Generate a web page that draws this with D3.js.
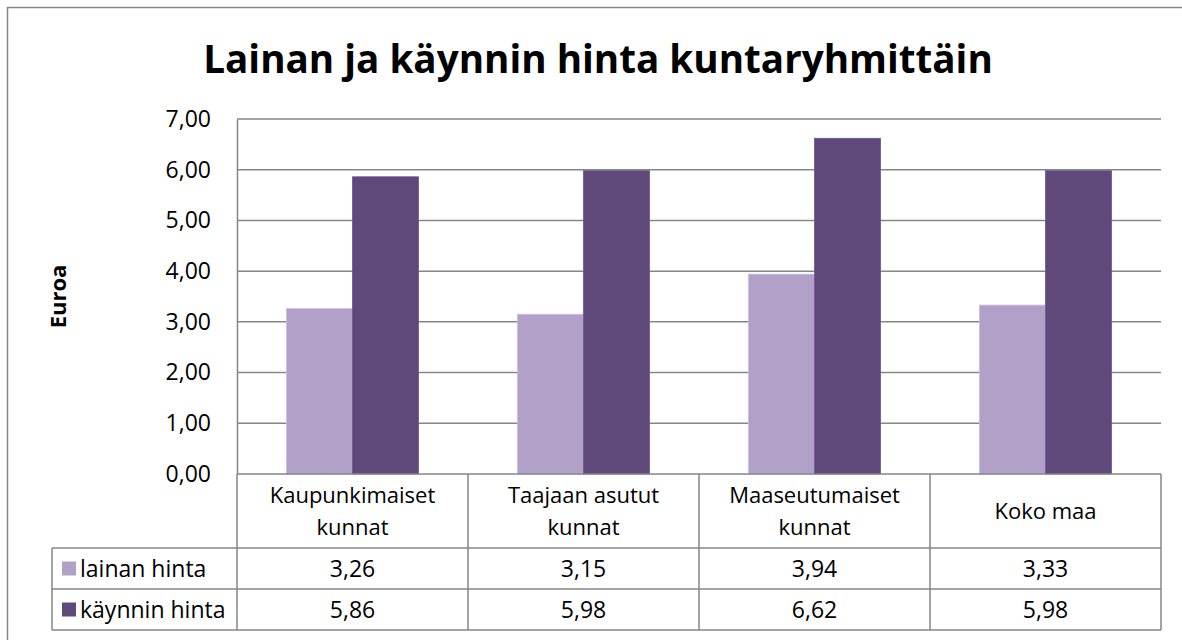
<!DOCTYPE html>
<html>
<head>
<meta charset="utf-8">
<script src="https://cdn.jsdelivr.net/npm/d3@7"></script>
<style>
  html, body { margin: 0; background: #fff; overflow: hidden; }
  svg { display: block; font-family: 'Open Sans', sans-serif; }
</style>
</head>
<body>
<svg id="chart" width="1182" height="640"></svg>
<script>
const title = 'Lainan ja käynnin hinta kuntaryhmittäin';
const yLabel = 'Euroa';
const categories = [
  ['Kaupunkimaiset', 'kunnat'],
  ['Taajaan asutut', 'kunnat'],
  ['Maaseutumaiset', 'kunnat'],
  ['Koko maa']
];
const seriesNames = ['lainan hinta', 'käynnin hinta'];
const lainanHinta = [3.26, 3.15, 3.94, 3.33];
const kaynninHinta = [5.86, 5.98, 6.62, 5.98];
const yTicks = [0, 1, 2, 3, 4, 5, 6, 7];

const colors = ['#b1a0c7', '#5f497a'];
const lineColor = '#868686';
const series = [lainanHinta, kaynninHinta];

const svg = d3.select('#chart');
const fmt = (v) => v.toFixed(2).replace('.', ',');

// plot area
const plotLeft = 237, plotRight = 1161, plotTop = 119, plotBottom = 474;
const rowH = 41;
const catRowBottom = 548;
const legendLeft = 52;

// outer chart border (right and bottom edges fall outside the picture)
svg.append('path')
  .attr('d', 'M7.5,640V7.5H1182')
  .attr('fill', 'none')
  .attr('stroke', lineColor)
  .attr('stroke-width', 1.5);

// title, sized to fit the reference width
const t = svg.append('text')
  .attr('x', 598).attr('y', 73)
  .attr('text-anchor', 'middle')
  .attr('font-weight', 'bold')
  .attr('font-size', 40)
  .attr('fill', '#000')
  .text(title);
const tw = t.node().getComputedTextLength();
t.attr('font-size', 40 * 790 / tw);

const x = d3.scaleBand()
  .domain(d3.range(categories.length))
  .range([plotLeft, plotRight])
  .paddingInner(0)
  .paddingOuter(0);

const xInner = d3.scaleBand()
  .domain(d3.range(series.length))
  .range([0, x.bandwidth()])
  .paddingInner(0)
  .paddingOuter(0.75);

const y = d3.scaleLinear().domain([0, 7]).range([plotBottom, plotTop]);

// gridlines
svg.append('g')
  .selectAll('line')
  .data(yTicks.filter((d) => d > 0))
  .enter()
  .append('line')
  .attr('x1', plotLeft).attr('x2', plotRight)
  .attr('y1', (d) => y(d)).attr('y2', (d) => y(d))
  .attr('stroke', lineColor)
  .attr('stroke-width', 1.5);

// y axis
const yAxis = svg.append('g')
  .attr('transform', `translate(${plotLeft},0)`)
  .call(d3.axisLeft(y).tickValues(yTicks).tickFormat(fmt).tickSize(0).tickPadding(26));
yAxis.attr('font-size', null).attr('font-family', null);
yAxis.select('.domain').attr('stroke', lineColor).attr('stroke-width', 1.5);
yAxis.selectAll('text')
  .style('font-size', '23px')
  .style('font-family', "'Open Sans', sans-serif")
  .attr('fill', '#000');

svg.append('text')
  .attr('transform', `translate(66,${(plotTop + plotBottom) / 2}) rotate(-90)`)
  .attr('text-anchor', 'middle')
  .attr('font-weight', 'bold')
  .attr('font-size', 22)
  .text(yLabel);

// bars
series.forEach((vals, si) => {
  svg.append('g')
    .selectAll('rect')
    .data(vals)
    .enter()
    .append('rect')
    .attr('x', (d, i) => x(i) + xInner(si))
    .attr('width', xInner.bandwidth())
    .attr('y', (d) => y(d))
    .attr('height', (d) => y(0) - y(d))
    .attr('fill', colors[si])
    .attr('stroke', d3.color(colors[si]).brighter(0.4))
    .attr('stroke-width', 0.8);
});

// data table
const table = svg.append('g')
  .attr('stroke', lineColor)
  .attr('stroke-width', 1.5);
const tableBottom = catRowBottom + rowH * series.length;
table.append('line')
  .attr('x1', plotLeft).attr('x2', plotRight)
  .attr('y1', plotBottom).attr('y2', plotBottom);
[catRowBottom, catRowBottom + rowH, tableBottom].forEach((yy) => {
  table.append('line')
    .attr('x1', legendLeft).attr('x2', plotRight)
    .attr('y1', yy).attr('y2', yy);
});
table.append('line')
  .attr('x1', legendLeft).attr('x2', legendLeft)
  .attr('y1', catRowBottom).attr('y2', tableBottom);
d3.range(categories.length + 1).forEach((i) => {
  const xx = i < categories.length ? x(i) : plotRight;
  table.append('line')
    .attr('x1', xx).attr('x2', xx)
    .attr('y1', plotBottom).attr('y2', tableBottom);
});

// category labels
const catText = svg.append('g')
  .selectAll('text')
  .data(categories)
  .enter()
  .append('text')
  .attr('text-anchor', 'middle')
  .attr('font-size', 22)
  .attr('fill', '#000')
  .attr('transform', (d, i) => `translate(${x(i) + x.bandwidth() / 2},${(plotBottom + catRowBottom) / 2})`);
catText.selectAll('tspan')
  .data((d) => d.map((s, k) => ({ s: s, k: k, n: d.length })))
  .enter()
  .append('tspan')
  .attr('x', 0)
  .attr('y', (d) => (d.k - (d.n - 1) / 2) * 32 + 8)
  .text((d) => d.s);

// series rows
series.forEach((vals, si) => {
  const cy = catRowBottom + rowH * si + rowH / 2;
  svg.append('rect')
    .attr('x', 62).attr('y', cy - 7)
    .attr('width', 14).attr('height', 14)
    .attr('fill', colors[si]);
  svg.append('text')
    .attr('x', 80).attr('y', cy + 8)
    .attr('font-size', 23)
    .text(seriesNames[si]);
  svg.append('g')
    .selectAll('text')
    .data(vals)
    .enter()
    .append('text')
    .attr('x', (d, i) => x(i) + x.bandwidth() / 2)
    .attr('y', cy + 8)
    .attr('text-anchor', 'middle')
    .attr('font-size', 23)
    .text((d) => fmt(d));
});
</script>
</body>
</html>
